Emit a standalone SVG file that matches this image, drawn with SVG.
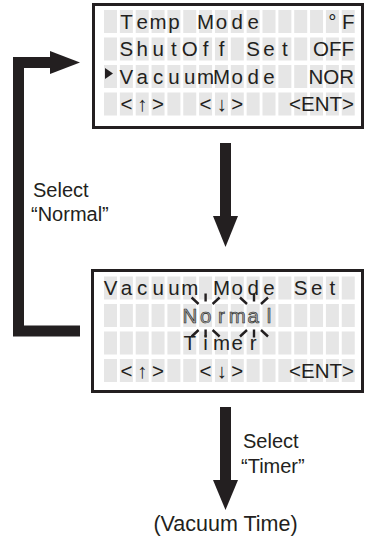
<svg xmlns="http://www.w3.org/2000/svg" width="366" height="538" viewBox="0 0 366 538">
<defs>
<g id="cellrow">
<rect x="0" width="13" height="23"/><rect x="15.85" width="13" height="23"/><rect x="31.7" width="13" height="23"/><rect x="47.55" width="13" height="23"/><rect x="63.4" width="13" height="23"/><rect x="79.25" width="13" height="23"/><rect x="95.1" width="13" height="23"/><rect x="110.95" width="13" height="23"/><rect x="126.8" width="13" height="23"/><rect x="142.65" width="13" height="23"/><rect x="158.5" width="13" height="23"/><rect x="174.35" width="13" height="23"/><rect x="190.2" width="13" height="23"/><rect x="206.05" width="13" height="23"/><rect x="221.9" width="13" height="23"/><rect x="237.75" width="13" height="23"/>
</g>
<g id="cellgrid" fill="#e6e6e6">
<use href="#cellrow" y="0"/><use href="#cellrow" y="27.5"/><use href="#cellrow" y="55"/><use href="#cellrow" y="82.5"/>
</g>
</defs>
<style>
.frame{fill:#fff;stroke:#231f20;stroke-width:3}
.lcd{font-family:"Liberation Sans",Arial,sans-serif;font-size:20.5px;fill:#231f20;text-anchor:middle}
.end{text-anchor:end}
.blink{fill:#a8a8a8;stroke:#231f20;stroke-width:0.6}
.lbl{font-family:"Liberation Sans",Arial,sans-serif;font-size:20px;fill:#231f20}
.spark{stroke:#231f20;stroke-width:2.4;fill:none}
.arr{fill:#231f20}
</style>
<rect width="366" height="538" fill="#fff"/>

<g id="menu-screen">
<rect class="frame" x="93.5" y="4.5" width="269" height="123"/>
<use href="#cellgrid" x="104" y="10"/>
<g class="lcd">
<text y="28.5"><tspan x="126.4">T</tspan><tspan x="142.2">e</tspan><tspan x="158.1">m</tspan><tspan x="173.9">p</tspan><tspan x="205.6">M</tspan><tspan x="221.5">o</tspan><tspan x="237.3">d</tspan><tspan x="253.2">e</tspan><tspan x="332.4">°</tspan><tspan x="348.3">F</tspan></text>
<text y="56"><tspan x="126.4">S</tspan><tspan x="142.2">h</tspan><tspan x="158.1">u</tspan><tspan x="173.9">t</tspan><tspan x="189.8">O</tspan><tspan x="205.6">f</tspan><tspan x="221.5">f</tspan><tspan x="253.2">S</tspan><tspan x="269">e</tspan><tspan x="284.9">t</tspan></text>
<text class="end" x="354" y="56">OFF</text>
<text y="83.5"><tspan x="126.4">V</tspan><tspan x="142.2">a</tspan><tspan x="158.1">c</tspan><tspan x="173.9">u</tspan><tspan x="189.8">u</tspan><tspan x="205.6">m</tspan><tspan x="221.5">M</tspan><tspan x="237.3">o</tspan><tspan x="253.2">d</tspan><tspan x="269">e</tspan></text>
<text class="end" x="354" y="83.5">NOR</text>
<text y="111"><tspan x="126.4">&lt;</tspan><tspan x="142.2">↑</tspan><tspan x="158.1">&gt;</tspan><tspan x="205.6">&lt;</tspan><tspan x="221.5">↓</tspan><tspan x="237.3">&gt;</tspan></text>
<text class="end" x="354" y="111">&lt;ENT&gt;</text>
</g>
<polygon class="arr" points="105,68 113,73.5 105,79"/>
</g>

<g id="mode-set-screen">
<rect class="frame" x="92.5" y="270.5" width="270" height="121"/>
<use href="#cellgrid" x="104" y="276.5"/>
<g class="lcd">
<text y="295"><tspan x="110.5">V</tspan><tspan x="126.4">a</tspan><tspan x="142.2">c</tspan><tspan x="158.1">u</tspan><tspan x="173.9">u</tspan><tspan x="189.8">m</tspan><tspan x="221.5">M</tspan><tspan x="237.3">o</tspan><tspan x="253.2">d</tspan><tspan x="269">e</tspan><tspan x="300.7">S</tspan><tspan x="316.6">e</tspan><tspan x="332.4">t</tspan></text>
<text class="blink" y="322.5"><tspan x="189.8">N</tspan><tspan x="205.6">o</tspan><tspan x="221.5">r</tspan><tspan x="237.3">m</tspan><tspan x="253.2">a</tspan><tspan x="269">l</tspan></text>
<text y="350"><tspan x="189.8">T</tspan><tspan x="205.6">i</tspan><tspan x="221.5">m</tspan><tspan x="237.3">e</tspan><tspan x="253.2">r</tspan></text>
<text y="377.5"><tspan x="126.4">&lt;</tspan><tspan x="142.2">↑</tspan><tspan x="158.1">&gt;</tspan><tspan x="205.6">&lt;</tspan><tspan x="221.5">↓</tspan><tspan x="237.3">&gt;</tspan></text>
<text class="end" x="354" y="377.5">&lt;ENT&gt;</text>
</g>
<g class="spark">
<path d="M205.6,293.5V301.5 M205.6,329.5V337.5 M191.6,297.5L198.6,304 M219.6,297.5L212.6,304 M191.6,336.5L198.6,330 M219.6,336.5L212.6,330"/>
<path d="M254,293.5V301.5 M254,329.5V337.5 M240,297.5L247,304 M268,297.5L261,304 M240,336.5L247,330 M268,336.5L261,330"/>
</g>
</g>

<g id="connectors">
<rect class="arr" x="220" y="143" width="11" height="74"/>
<polygon class="arr" points="213,216 238,216 225.5,247"/>
<path d="M80,331H18.5V62.5H52" fill="none" stroke="#231f20" stroke-width="11" stroke-linejoin="miter"/>
<polygon class="arr" points="50,51 80,62.5 50,74"/>
<rect class="arr" x="220" y="407" width="11" height="74"/>
<polygon class="arr" points="213,480 238,480 225.5,510"/>
</g>

<g id="labels" class="lbl">
<text x="33" y="197">Select</text>
<text x="31" y="221">“Normal”</text>
<text x="243" y="448">Select</text>
<text x="241" y="473">“Timer”</text>
<text x="225.5" y="531" text-anchor="middle" font-size="21.5">(Vacuum Time)</text>
</g>
</svg>
